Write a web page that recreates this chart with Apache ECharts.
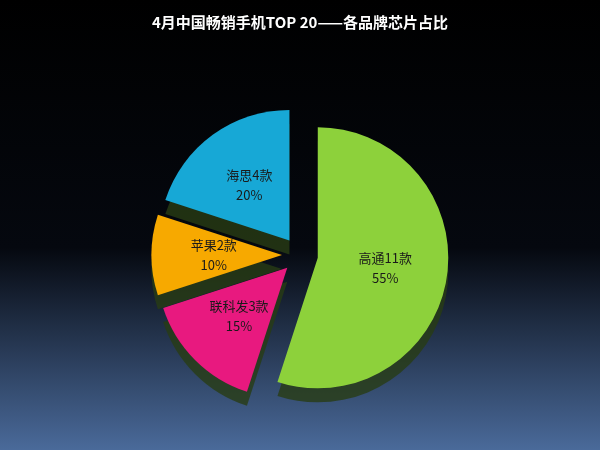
<!DOCTYPE html>
<html><head><meta charset="utf-8">
<script src="https://cdn.jsdelivr.net/npm/echarts@6/dist/echarts.min.js"></script>
<style>html,body{margin:0;padding:0;}#c{width:600px;height:450px;}</style>
</head><body><div id="c"></div>
<script>
const categories = ['高通11款', '联科发3款', '苹果2款', '海思4款'];
const counts = [11, 3, 2, 4];
const colors = ['#8dd13b', '#e8197f', '#f7a900', '#17a8d6'];
const chart = echarts.init(document.getElementById('c'));
chart.setOption({
  backgroundColor: {type:'linear', x:0, y:0, x2:0, y2:1, colorStops:[
    {offset:0, color:'#000000'}, {offset:0.55, color:'#05080f'}, {offset:1, color:'#4a6a9a'}]},
  title: {text:'4月中国畅销手机TOP 20——各品牌芯片占比', left:'center', top:10,
    textStyle:{color:'#ffffff', fontSize:15, fontWeight:'bold', fontFamily:'Noto Sans CJK SC'}},
  series: [{
    type:'pie', center:[300,255], radius:['0%','58%'], startAngle:90, clockwise:true,
    selectedMode:'multiple', selectedOffset:18,
    label:{show:true, position:'inside', formatter:'{b}\n{d}%', color:'#1a1a1a', fontSize:13,
      lineHeight:20, fontFamily:'Noto Sans CJK SC'},
    itemStyle:{shadowBlur:0, shadowOffsetY:14, shadowColor:'rgba(40,60,20,0.8)'},
    data: categories.map((n,i)=>({name:n, value:counts[i], selected:true, itemStyle:{color:colors[i]}}))
  }]
});
</script></body></html>
